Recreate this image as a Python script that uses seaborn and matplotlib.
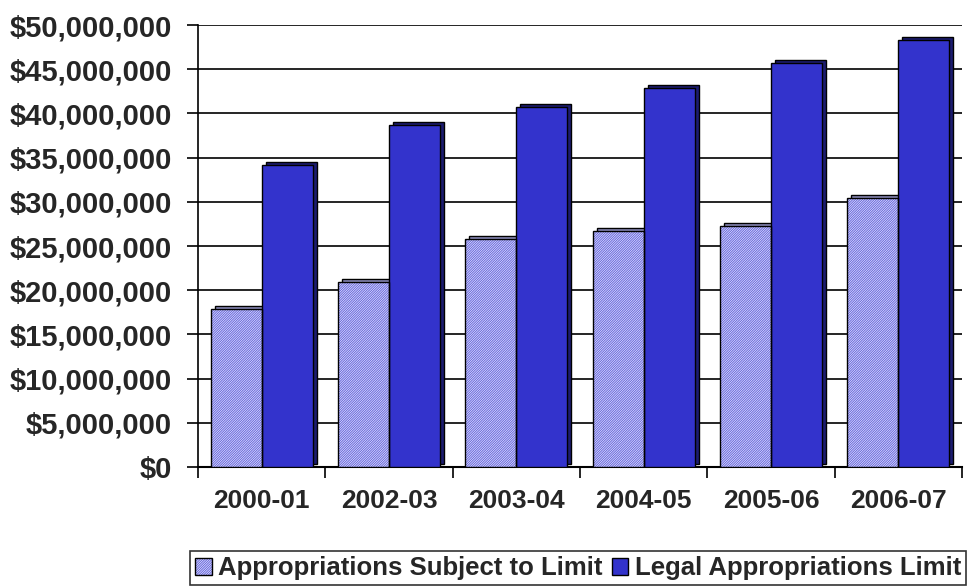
import pandas as pd
import matplotlib.pyplot as plt
import matplotlib.transforms as mtransforms
from matplotlib.patches import Rectangle, Patch
from matplotlib.ticker import FuncFormatter, FixedLocator
from matplotlib.legend_handler import HandlerTuple
import seaborn as sns

# --- chart data ---
years = ["2000-01", "2002-03", "2003-04", "2004-05", "2005-06", "2006-07"]
subject_to_limit = [17_900_000, 20_900_000, 25_800_000, 26_700_000, 27_300_000, 30_400_000]
legal_limit = [34_200_000, 38_700_000, 40_700_000, 42_900_000, 45_700_000, 48_300_000]
series_names = ["Appropriations Subject to Limit", "Legal Appropriations Limit"]

df = pd.DataFrame({
    "Year": years * 2,
    "Series": [series_names[0]] * len(years) + [series_names[1]] * len(years),
    "Value": subject_to_limit + legal_limit,
})

sns.set_style("white")
plt.rcParams["font.family"] = ["Liberation Sans", "DejaVu Sans"]
plt.rcParams["font.weight"] = "bold"
plt.rcParams["hatch.linewidth"] = 0.8

fig = plt.figure(figsize=(9.69, 5.88), dpi=100)
ax = fig.add_axes([198 / 969, 1 - 467 / 588, (962 - 198) / 969, (467 - 25) / 588])

light_col = "#c8c8f4"
dark_col = "#3333cc"
hatch_col = "#6a6ae0"
hatch = "/" * 14
sns.barplot(data=df, x="Year", y="Value", hue="Series", order=years,
            hue_order=series_names, palette=[light_col, dark_col],
            saturation=1, width=0.8, legend=False, ax=ax, zorder=3)

# 3D-ish depth: shifted copy behind each bar, then style faces
shift = mtransforms.ScaledTranslation(4 / 100, 3 / 100, fig.dpi_scale_trans)
bars = list(ax.patches)
n = len(years)
for i, bar in enumerate(bars):
    light = i < n
    x, w, h = bar.get_x(), bar.get_width(), bar.get_height()
    side = Rectangle((x, 0), w, h, transform=ax.transData + shift,
                     facecolor="#8a8ab8" if light else "#1c1c70",
                     edgecolor="black", linewidth=1.0, zorder=2)
    ax.add_patch(side)
    if light:
        bar.set_facecolor("white")
        bar.set_hatch(hatch)
        bar.set_edgecolor(hatch_col)
        bar.set_linewidth(0)
        ax.add_patch(Rectangle((x, 0), w, h, fill=False, edgecolor="black",
                               linewidth=1.0, zorder=4))
    else:
        bar.set_edgecolor("black")
        bar.set_linewidth(1.0)

# axes formatting
ax.set_xlim(-0.5, len(years) - 0.5)
ax.set_ylim(0, 50_000_000)
ax.set_yticks(range(0, 50_000_001, 5_000_000))
ax.yaxis.set_major_formatter(FuncFormatter(lambda v, p: f"${v:,.0f}"))
ax.grid(axis="y", color="black", linewidth=1.2, zorder=0)
ax.set_axisbelow(True)
ax.set_xlabel("")
ax.set_ylabel("")

for s in ["top", "right"]:
    ax.spines[s].set_visible(False)
ax.spines["left"].set_color("black")
ax.spines["left"].set_linewidth(1.2)
ax.spines["bottom"].set_color("black")
ax.spines["bottom"].set_linewidth(1.5)

ax.tick_params(axis="y", direction="out", length=8, width=1.2, color="black",
               left=True, labelsize=21, pad=11)
ax.xaxis.set_minor_locator(FixedLocator([i - 0.5 for i in range(len(years) + 1)]))
ax.tick_params(axis="x", which="major", length=0, labelsize=19, pad=16)
ax.tick_params(axis="x", which="minor", direction="out", length=8, width=1.2,
               color="black", bottom=True)
for lab in ax.get_xticklabels() + ax.get_yticklabels():
    lab.set_fontweight("bold")

# legend at the bottom
light_handle = (
    Patch(facecolor="white", hatch=hatch, edgecolor=hatch_col, linewidth=0),
    Patch(fill=False, edgecolor="black", linewidth=1.0),
)
dark_handle = Patch(facecolor=dark_col, edgecolor="black", linewidth=1.0)
leg = fig.legend([light_handle, dark_handle], series_names, loc="upper left",
                 bbox_to_anchor=(190 / 969, 1 - 551 / 588), ncol=2,
                 handler_map={tuple: HandlerTuple(ndivide=1)},
                 frameon=True, fancybox=False, edgecolor="black",
                 fontsize=18.5, handlelength=0.65, handleheight=0.65,
                 handletextpad=0.25, columnspacing=0.35, borderpad=0.2,
                 borderaxespad=0)
leg.get_frame().set_linewidth(1.2)
for t in leg.get_texts():
    t.set_fontweight("bold")

fig.savefig("out.png", dpi=100)
